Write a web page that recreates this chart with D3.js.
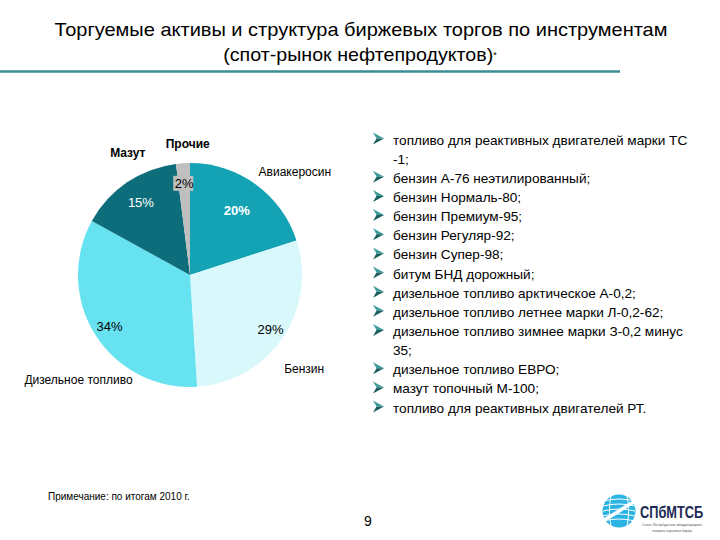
<!DOCTYPE html>
<html>
<head>
<meta charset="utf-8">
<script src="https://cdn.jsdelivr.net/npm/d3@7"></script>
<style>
  body { margin: 0; background: #fff; }
  svg { display: block; font-family: "Liberation Sans", Arial, sans-serif; }
</style>
</head>
<body>
<svg id="chart" width="720" height="540"></svg>
<script>
// data
var categories = ["Авиакеросин", "Бензин", "Дизельное топливо", "Мазут", "Прочие"];
var shares = [20, 29, 34, 15, 2];
var titleLines = ["Торгуемые активы и структура биржевых торгов по инструментам",
                  "(спот-рынок нефтепродуктов)"];
var legendItems = [
  "топливо для реактивных двигателей марки ТС -1;",
  "бензин А-76 неэтилированный;",
  "бензин Нормаль-80;",
  "бензин Премиум-95;",
  "бензин Регуляр-92;",
  "бензин Супер-98;",
  "битум БНД дорожный;",
  "дизельное топливо арктическое А-0,2;",
  "дизельное топливо летнее марки Л-0,2-62;",
  "дизельное топливо зимнее марки З-0,2 минус 35;",
  "дизельное топливо ЕВРО;",
  "мазут топочный М-100;",
  "топливо для реактивных двигателей РТ."
];
var note = "Примечание: по итогам 2010 г.";
var pageNo = "9";

// look
var sliceColors = ["#13a3b5", "#d9f8fb", "#67e2f1", "#0e6d7b", "#bfbfbf"];
var pctColors = ["#fff", "#000", "#000", "#fff", "#000"];
var pctBold = [true, false, false, false, false];
var nameBold = [false, false, false, true, true];
// label placement: radial fraction for the % labels, [angle deg, radius px] for names
var pctR = [0.71, 0.87, 0.85, 0.78, 0.82];
var nameSpots = [[45.5, 147], [129.5, 148], [226.8, 153], [333, 137], [359, 131]];

var svg = d3.select("#chart");

// title
var titleFont = "'Liberation Sans Narrow', 'Arial Narrow', 'Liberation Sans', sans-serif";
svg.append("text")
  .attr("x", 361).attr("y", 36)
  .attr("text-anchor", "middle")
  .attr("textLength", 613).attr("lengthAdjust", "spacingAndGlyphs")
  .style("font-family", titleFont)
  .style("font-size", "19px")
  .text(titleLines[0]);
var t2 = svg.append("text")
  .attr("x", 360).attr("y", 61)
  .attr("text-anchor", "middle")
  .style("font-family", titleFont)
  .style("font-size", "19px");
t2.append("tspan").attr("textLength", 270).attr("lengthAdjust", "spacingAndGlyphs").text(titleLines[1]);
t2.append("tspan").style("font-size", "9px").attr("dy", -3).text("*");

svg.append("line")
  .attr("x1", 0).attr("x2", 620).attr("y1", 71.5).attr("y2", 71.5)
  .attr("stroke", "#3b8c94").attr("stroke-width", 2.5);

// pie
var cx = 190, cy = 275, R = 112;
var pie = d3.pie().sort(null).value(function(d) { return d; });
var arcs = pie(shares);
var arc = d3.arc().innerRadius(0).outerRadius(R);
var g = svg.append("g").attr("transform", "translate(" + cx + "," + cy + ")");

g.selectAll("path.slice")
  .data(arcs)
  .enter().append("path")
  .attr("class", "slice")
  .attr("d", arc)
  .attr("fill", function(d, i) { return sliceColors[i]; });

function polar(angDeg, r) {
  var a = angDeg * Math.PI / 180;
  return [r * Math.sin(a), -r * Math.cos(a)];
}

arcs.forEach(function(d, i) {
  var mid = (d.startAngle + d.endAngle) / 2 * 180 / Math.PI;
  var p = polar(mid, R * pctR[i]);
  if (i === 4) {
    g.append("rect")
      .attr("x", p[0] - 11).attr("y", p[1] - 7.5)
      .attr("width", 20).attr("height", 15)
      .attr("fill", sliceColors[i]);
  }
  g.append("text")
    .attr("x", p[0]).attr("y", p[1])
    .attr("text-anchor", "middle")
    .attr("dominant-baseline", "central")
    .style("font-size", "13px")
    .style("font-weight", pctBold[i] ? "bold" : "normal")
    .style("fill", pctColors[i])
    .text(shares[i] + "%");

  var q = polar(nameSpots[i][0], nameSpots[i][1]);
  g.append("text")
    .attr("x", q[0]).attr("y", q[1])
    .attr("text-anchor", "middle")
    .attr("dominant-baseline", "central")
    .style("font-size", "12px")
    .style("font-weight", nameBold[i] ? "bold" : "normal")
    .style("fill", "#000")
    .text(categories[i]);
});

// bullet list
var list = svg.append("g");
var lineH = 19.15, y0 = 140, textX = 393, maxW = 310, listSize = "13.6px";
var lineIdx = 0;
legendItems.forEach(function(item) {
  var words = item.split(" ");
  var lines = [];
  var cur = "";
  var probe = list.append("text").style("font-size", listSize);
  words.forEach(function(w) {
    var test = cur ? cur + " " + w : w;
    probe.text(test);
    if (probe.node().getComputedTextLength() > maxW && cur) {
      lines.push(cur);
      cur = w;
    } else {
      cur = test;
    }
  });
  lines.push(cur);
  probe.remove();

  var by = y0 + lineIdx * lineH - 1.5;
  var b = list.append("g").attr("transform", "translate(373," + (by - 6) + ")");
  b.append("path").attr("d", "M0,0 L11,6 L3.5,6 Z").attr("fill", "#3d9d9a");
  b.append("path").attr("d", "M0,12 L11,6 L3.5,6 Z").attr("fill", "#1b5f5e");

  lines.forEach(function(l) {
    list.append("text")
      .attr("x", textX).attr("y", y0 + lineIdx * lineH)
      .attr("dominant-baseline", "central")
      .style("font-size", listSize)
      .style("fill", "#000")
      .text(l);
    lineIdx++;
  });
});

// footer
svg.append("text")
  .attr("x", 48).attr("y", 500)
  .style("font-size", "10px")
  .text(note);
svg.append("text")
  .attr("x", 368).attr("y", 526)
  .attr("text-anchor", "middle")
  .style("font-size", "14px")
  .text(pageNo);

// exchange logo
var logo = svg.append("g").attr("transform", "translate(619,511)");
logo.append("circle").attr("r", 16.5).attr("fill", "#2bb3e4");
[-10, -5, 0, 5, 10].forEach(function(dy) {
  logo.append("path")
    .attr("d", "M-16," + dy + " Q0," + (dy - 4) + " 16," + dy)
    .attr("fill", "none").attr("stroke", "#fff").attr("stroke-width", 1);
});
[-8, 8].forEach(function(dx) {
  logo.append("path")
    .attr("d", "M" + dx + ",-15 Q" + (dx * 1.4) + ",0 " + dx + ",15")
    .attr("fill", "none").attr("stroke", "#fff").attr("stroke-width", 1);
});
logo.append("path")
  .attr("d", "M-15,9 C-5,4 5,-4 15,-9")
  .attr("fill", "none").attr("stroke", "#fff").attr("stroke-width", 3.5);
svg.append("text")
  .attr("transform", "translate(640,518) scale(0.8,1)")
  .style("font-size", "16px").style("font-weight", "bold")
  .style("fill", "#1c2a56")
  .text("СПбМТСБ");
svg.append("text")
  .attr("transform", "translate(672,526) scale(0.85,1)")
  .attr("text-anchor", "middle")
  .style("font-size", "4px").style("fill", "#555")
  .text("Санкт-Петербургская международная");
svg.append("text")
  .attr("transform", "translate(672,532) scale(0.85,1)")
  .attr("text-anchor", "middle")
  .style("font-size", "4px").style("fill", "#555")
  .text("товарно-сырьевая биржа");
</script>
</body>
</html>
